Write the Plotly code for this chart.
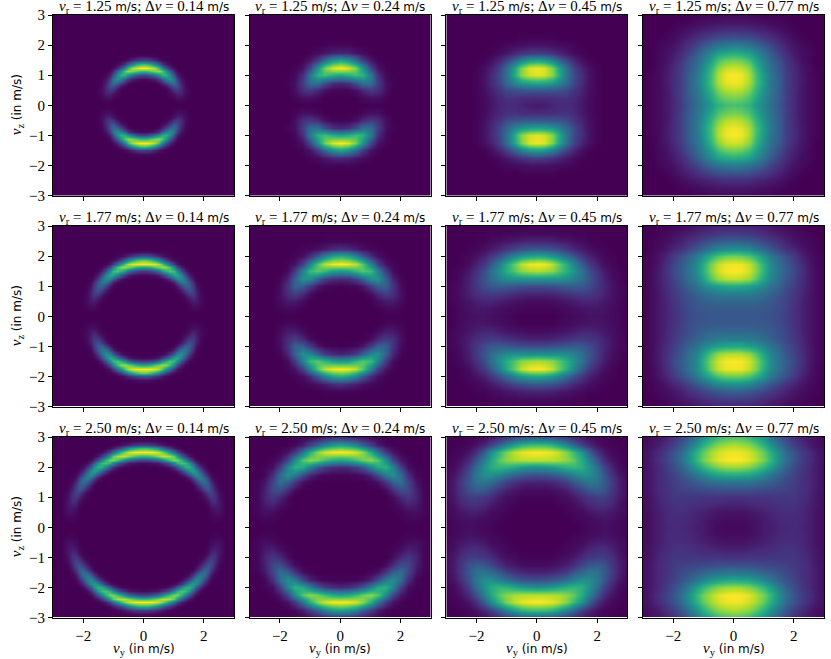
import numpy as np
import plotly.graph_objects as go

# tick labels and panel headings
y_ticks = [-3, -2, -1, 0, 1, 2, 3]
x_ticks = [-2, 0, 2]
v_r = ['1.25', '1.77', '2.50']
dv = ['0.14', '0.24', '0.45', '0.77']

# values in percent of the brightest, one quadrant only:
# rows go up from vz=0, columns go right from vy=0, whatever is missing is 0
# first column of panels is on a 0.125 m/s grid, the others on 0.25 m/s
r125_d014 = [[], [0]*9 + [1, 1], [0]*8 + [2, 4, 4, 2], [0]*7 + [2, 5, 9, 8, 3, 1],
             [0]*6 + [1, 5, 13, 16, 11, 4, 1], [0]*5 + [2, 6, 15, 25, 23, 11, 3],
             [0, 0, 0, 1, 3, 9, 20, 33, 36, 24, 9, 2], [3, 3, 5, 8, 17, 30, 45, 50, 37, 17, 5, 1],
             [20, 22, 28, 38, 51, 63, 64, 48, 25, 8, 2], [67, 69, 75, 81, 83, 74, 53, 29, 11, 3],
             [100, 99, 94, 85, 68, 46, 24, 10, 3], [67, 64, 56, 43, 28, 15, 6, 2],
             [20, 19, 15, 10, 5, 2, 1], [3, 3, 2, 1]]
r177_d014 = [[], [], [0]*12 + [1, 2, 2, 1], [0]*12 + [2, 4, 4, 2, 1], [0]*11 + [1, 4, 8, 7, 3, 1],
             [0]*10 + [1, 3, 9, 13, 9, 3, 1], [0]*10 + [2, 8, 16, 17, 10, 3],
             [0]*9 + [2, 7, 17, 25, 19, 8, 2], [0]*8 + [2, 7, 19, 30, 30, 17, 5, 1],
             [0]*6 + [1, 3, 9, 22, 37, 40, 27, 11, 2], [0]*4 + [1, 2, 6, 14, 29, 45, 50, 37, 18, 5, 1],
             [2, 2, 3, 4, 8, 15, 27, 43, 58, 60, 45, 23, 8, 2],
             [16, 17, 20, 26, 36, 50, 64, 72, 67, 48, 25, 9, 2],
             [59, 60, 65, 73, 80, 85, 82, 67, 45, 23, 9, 2],
             [99, 99, 98, 95, 87, 73, 53, 33, 16, 6, 2], [76, 74, 67, 57, 45, 31, 18, 8, 3, 1],
             [26, 25, 21, 16, 11, 6, 3, 1], [4, 4, 3, 2, 1, 1]]
r250_d014 = [[], [], [0]*19 + [1, 1], [0]*18 + [1, 2, 2, 1], [0]*18 + [2, 4, 4, 2],
             [0]*17 + [1, 4, 6, 5, 2], [0]*17 + [2, 7, 9, 6, 2], [0]*16 + [1, 5, 11, 12, 6, 2],
             [0]*15 + [1, 3, 10, 16, 13, 5, 1], [0]*15 + [2, 8, 17, 20, 12, 4, 1],
             [0]*14 + [2, 7, 17, 25, 21, 9, 2], [0]*13 + [1, 6, 16, 28, 29, 17, 6, 1],
             [0]*12 + [1, 6, 16, 30, 36, 26, 11, 3], [0]*11 + [2, 6, 18, 33, 43, 35, 17, 5, 1],
             [0]*10 + [3, 9, 22, 39, 49, 42, 23, 8, 2], [0]*7 + [1, 2, 6, 14, 30, 47, 56, 48, 28, 11, 3],
             [0, 0, 0, 0, 1, 1, 3, 6, 14, 26, 43, 60, 64, 52, 30, 13, 3],
             [3, 3, 4, 5, 7, 12, 19, 30, 46, 62, 72, 69, 52, 29, 12, 3, 1],
             [20, 21, 24, 29, 36, 46, 59, 71, 81, 80, 66, 45, 25, 10, 3],
             [67, 68, 71, 77, 84, 89, 91, 86, 74, 55, 33, 17, 6, 2],
             [100, 100, 99, 96, 90, 81, 67, 50, 35, 20, 9, 3, 1],
             [67, 66, 61, 55, 44, 34, 24, 14, 8, 3, 1], [20, 19, 17, 14, 10, 7, 4, 2, 1],
             [3, 3, 2, 2, 1, 1]]
r125_d024 = [[], [0, 0, 0, 2, 4, 4, 1], [1, 1, 4, 11, 17, 13, 4], [11, 14, 24, 37, 36, 18, 4, 1],
             [58, 62, 69, 64, 40, 13, 2], [100, 95, 79, 51, 21, 5, 1], [58, 51, 35, 17, 5, 1],
             [11, 10, 6, 3, 1], [1, 1, 1]]
r177_d024 = [[], [0]*6 + [2, 2, 1], [0]*5 + [3, 7, 7, 3], [0]*4 + [3, 11, 18, 13, 4],
             [0, 1, 2, 6, 17, 30, 31, 15, 3], [10, 12, 18, 31, 48, 50, 31, 10, 1],
             [53, 56, 66, 74, 68, 44, 17, 3], [100, 98, 90, 73, 44, 19, 5, 1],
             [63, 58, 45, 28, 12, 4, 1], [14, 12, 8, 4, 2, 1], [1, 1, 1]]
r250_d024 = [[], [0]*9 + [1, 1], [0]*8 + [1, 3, 4, 2], [0]*7 + [1, 4, 9, 7, 2],
             [0]*7 + [3, 11, 16, 10, 2], [0]*6 + [3, 12, 24, 22, 9, 2],
             [0]*4 + [1, 4, 15, 30, 36, 21, 6, 1], [1, 1, 2, 4, 10, 23, 41, 50, 35, 13, 2],
             [11, 13, 18, 27, 43, 60, 64, 45, 19, 4, 1], [58, 61, 69, 78, 83, 73, 48, 21, 6, 1],
             [100, 99, 94, 83, 62, 38, 16, 5, 1], [58, 54, 45, 32, 19, 8, 2],
             [11, 10, 7, 4, 2, 1]]
r125_d045 = [[7, 8, 10, 12, 12, 10, 6, 3, 1], [12, 12, 13, 14, 14, 11, 7, 3, 1],
             [27, 27, 26, 25, 22, 15, 9, 4, 1], [58, 57, 53, 45, 33, 21, 11, 5, 1],
             [96, 93, 82, 60, 37, 22, 12, 5, 1], [98, 95, 80, 57, 35, 19, 9, 4, 1],
             [56, 53, 44, 31, 19, 10, 4, 1], [18, 17, 14, 10, 6, 3, 1],
             [5, 5, 4, 3, 2, 1], [1, 1, 1]]
r177_d045 = [[0, 0, 0, 1, 2, 3, 4, 5, 5, 4, 3, 1], [1, 1, 1, 2, 3, 4, 5, 6, 6, 5, 3, 1],
             [3, 3, 4, 5, 6, 8, 10, 10, 9, 6, 4, 2], [9, 9, 10, 12, 14, 16, 17, 16, 13, 9, 5, 2, 1],
             [23, 23, 24, 26, 28, 29, 28, 23, 16, 10, 5, 2, 1], [50, 50, 50, 50, 48, 43, 35, 26, 17, 9, 4, 1],
             [88, 86, 82, 73, 62, 50, 37, 24, 14, 7, 3, 1], [100, 98, 90, 76, 60, 44, 28, 17, 9, 4, 1],
             [60, 58, 53, 45, 35, 25, 16, 9, 5, 2, 1], [28, 27, 25, 21, 16, 11, 7, 4, 2, 1],
             [10, 10, 9, 7, 6, 4, 3, 1, 1], [3, 3, 3, 2, 2, 1, 1]]
r250_d045 = [[0, 0, 0, 0, 0, 0, 1, 2, 3, 4, 3, 2, 1], [0, 0, 0, 0, 0, 1, 2, 3, 4, 5, 4, 2, 1],
             [0, 0, 0, 0, 1, 2, 3, 6, 8, 8, 6, 4, 2], [0, 0, 0, 1, 2, 4, 7, 11, 13, 13, 10, 5, 2],
             [1, 1, 1, 3, 4, 7, 12, 16, 18, 18, 13, 7, 3], [3, 3, 4, 6, 9, 14, 21, 27, 30, 25, 16, 8, 3],
             [9, 9, 11, 14, 19, 27, 34, 39, 37, 28, 17, 8, 3], [24, 25, 27, 31, 37, 44, 50, 49, 40, 26, 14, 6, 2],
             [50, 51, 54, 59, 64, 66, 62, 51, 35, 20, 9, 3, 1], [90, 90, 89, 87, 82, 74, 60, 43, 26, 12, 5, 2],
             [100, 99, 96, 90, 80, 66, 50, 30, 14, 6, 2, 1], [70, 69, 65, 56, 45, 32, 20, 11, 5, 2, 1],
             [27, 26, 24, 20, 15, 10, 6, 3, 2, 1]]
r125_d077 = [[70, 69, 64, 54, 44, 35, 27, 18, 11, 6, 3, 1], [79, 77, 71, 59, 47, 37, 28, 19, 11, 6, 3, 1],
             [90, 88, 80, 65, 50, 38, 29, 19, 12, 6, 3, 1], [98, 96, 87, 70, 53, 39, 29, 19, 12, 7, 3, 1],
             [100, 98, 88, 69, 52, 38, 29, 19, 12, 7, 3, 1], [93, 91, 82, 65, 48, 36, 27, 18, 11, 6, 3],
             [79, 77, 70, 56, 43, 32, 24, 15, 9, 5, 2], [62, 60, 56, 47, 37, 28, 19, 12, 7, 4, 2],
             [42, 41, 38, 33, 27, 20, 14, 9, 5, 3, 1], [26, 25, 24, 21, 17, 13, 9, 6, 3, 1],
             [13, 13, 12, 10, 9, 7, 5, 3, 1], [6, 6, 6, 5, 4, 3, 2, 1], [3, 3, 2, 2, 1, 1]]
r177_d077 = [[27, 27, 27, 27, 26, 25, 22, 18, 14, 10, 6, 3, 1], [28, 28, 28, 28, 27, 26, 23, 19, 14, 10, 6, 3, 1],
             [33, 33, 33, 32, 30, 28, 24, 20, 15, 10, 6, 3, 1], [42, 42, 41, 39, 35, 31, 26, 21, 16, 11, 6, 3, 1],
             [60, 59, 56, 52, 45, 37, 31, 24, 18, 12, 7, 3, 1], [90, 89, 84, 73, 57, 44, 35, 27, 20, 13, 7, 3, 1],
             [100, 99, 93, 81, 63, 47, 37, 29, 22, 14, 7, 3, 1], [98, 97, 91, 79, 61, 46, 36, 28, 20, 13, 6, 2, 1],
             [78, 77, 72, 63, 51, 40, 31, 24, 17, 10, 5, 2, 1], [50, 49, 46, 40, 33, 26, 20, 14, 10, 6, 3, 1],
             [31, 30, 28, 25, 21, 17, 13, 9, 6, 4, 2, 1], [18, 18, 17, 15, 13, 10, 8, 6, 4, 2, 1],
             [9, 9, 9, 8, 7, 6, 4, 3, 2, 1]]
r250_d077 = [[2, 2, 3, 5, 7, 8, 10, 11, 12, 10, 8, 5, 3], [3, 3, 4, 5, 7, 9, 11, 12, 12, 11, 8, 5, 3],
             [5, 5, 6, 7, 9, 10, 12, 13, 13, 11, 8, 5, 3], [9, 9, 10, 11, 12, 13, 14, 15, 14, 12, 9, 6, 3],
             [14, 14, 15, 15, 15, 16, 16, 16, 16, 13, 10, 6, 4], [24, 24, 24, 23, 22, 21, 20, 19, 17, 14, 11, 7, 4],
             [38, 38, 37, 35, 32, 29, 25, 22, 18, 14, 11, 7, 4], [60, 59, 57, 52, 45, 38, 31, 25, 20, 15, 11, 7, 4],
             [85, 84, 80, 74, 65, 54, 41, 31, 23, 17, 11, 7, 4], [100, 99, 95, 88, 78, 65, 49, 36, 26, 19, 13, 8, 4],
             [98, 97, 93, 86, 75, 62, 47, 34, 25, 18, 12, 7, 4], [88, 86, 82, 74, 63, 50, 37, 27, 19, 13, 8, 5, 3],
             [72, 70, 66, 59, 49, 38, 28, 20, 14, 9, 6, 4, 2]]

panels = [
    [r125_d014, r125_d024, r125_d045, r125_d077],
    [r177_d014, r177_d024, r177_d045, r177_d077],
    [r250_d014, r250_d024, r250_d045, r250_d077],
]

W, H = 831, 659
MT, MB = 10, 10  # tick labels at the axis ends push the margin to about 7 px anyway
lefts = [53, 249.7, 446.3, 643]
tops = [15, 226, 437]
pw, ph = 181, 180.5

SERIF = 'Liberation Serif'
SANS = 'DejaVu Sans'


def py(p):
    # pixel row in the window to paper coordinate
    return 1 - (p - MT) / (H - MT - MB)


def unfold(rows, n):
    q = np.zeros((n, n))
    for i, row in enumerate(rows):
        q[i, :len(row)] = row
    full = np.hstack([q[:, :0:-1], q])
    full = np.vstack([full[:0:-1], full])
    axis = np.linspace(-3, 3, 2 * n - 1)
    return axis, full / 100


def unit(s):
    return f'<span style="font-family:{SANS};font-size:12px">{s}</span>'


fig = go.Figure()
annotations = []
layout = {}
for r in range(3):
    for c in range(4):
        k = r * 4 + c + 1
        suffix = '' if k == 1 else str(k)
        axis, z = unfold(panels[r][c], 25 if c == 0 else 13)
        fig.add_trace(go.Heatmap(x=axis, y=axis, z=z, zmin=0, zmax=1, zsmooth='best',
                                 colorscale='Viridis', showscale=False,
                                 xaxis='x' + suffix, yaxis='y' + suffix))
        common = dict(showgrid=False, zeroline=False, showline=True, mirror=True,
                      linecolor='black', linewidth=1, ticks='outside', ticklen=4,
                      tickcolor='black', tickwidth=1, range=[-3, 3],
                      tickfont=dict(family=SERIF, size=15, color='black'))
        layout['xaxis' + suffix] = dict(
            common, domain=[lefts[c] / W, (lefts[c] + pw) / W], anchor='y' + suffix,
            tickvals=x_ticks, ticktext=[str(t).replace('-', '\u2212') for t in x_ticks],
            showticklabels=r == 2)
        layout['yaxis' + suffix] = dict(
            common, domain=[py(tops[r] + ph), py(tops[r])], anchor='x' + suffix,
            tickvals=y_ticks, ticktext=[str(t).replace('-', '\u2212') for t in y_ticks],
            showticklabels=c == 0)
        title = (f'<i>v</i><sub>r</sub> = {v_r[r]} {unit("m/s")}; '
                 f'\u0394<i>v</i> = {dv[c]} {unit("m/s")}')
        annotations.append(dict(text=title, xref='paper', yref='paper',
                                x=(lefts[c] + pw / 2) / W, y=py(tops[r] + 2),
                                xanchor='center', yanchor='bottom', showarrow=False,
                                borderpad=0, font=dict(family=SERIF, size=15, color='black')))
        if c == 0:
            annotations.append(dict(text=f'<i>v</i><sub>z</sub> {unit("(in m/s)")}',
                                    xref='paper', yref='paper', x=17 / W,
                                    y=py(tops[r] + ph / 2), textangle=-90,
                                    xanchor='center', yanchor='middle', showarrow=False,
                                    font=dict(family=SERIF, size=15, color='black')))
        if r == 2:
            annotations.append(dict(text=f'<i>v</i><sub>y</sub> {unit("(in m/s)")}',
                                    xref='paper', yref='paper', x=(lefts[c] + pw / 2) / W,
                                    y=py(649), xanchor='center', yanchor='middle',
                                    showarrow=False,
                                    font=dict(family=SERIF, size=15, color='black')))

fig.update_layout(width=W, height=H, margin=dict(l=0, r=0, t=MT, b=MB),
                  paper_bgcolor='white', plot_bgcolor='white',
                  annotations=annotations, **layout)
fig.write_html("out.html", config={'displayModeBar': False},
               post_script="document.body.style.margin='0';document.body.style.overflow='hidden';")
